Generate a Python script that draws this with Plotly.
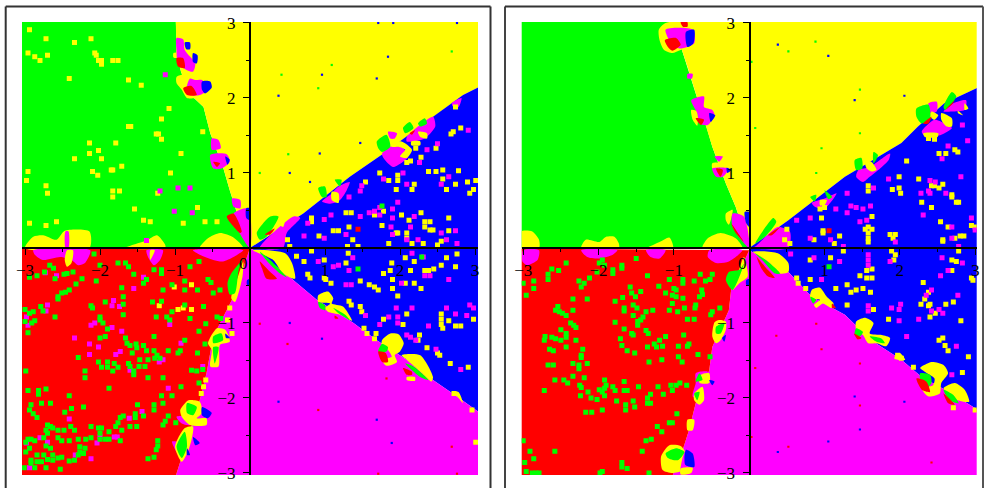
import plotly.graph_objects as go

# ---------- tick labels ----------
X_TICKS = [-3, -2, -1, 1, 2, 3]
X_TICK_LABELS = ["\u22123", "\u22122", "\u22121", "1", "2", "3"]
Y_TICKS = [-3, -2, -1, 1, 2, 3]
Y_TICK_LABELS = ["\u22123", "\u22122", "\u22121", "1", "2", "3"]
MINOR_TICKS = [-2.5, -1.5, -0.5, 0.5, 1.5, 2.5]

# ---------- left panel: basin boundaries ----------
A_GY = [(-.99,3.04),(-.98,2.8),(-.98,2.6),(-.92,2.35),(-.8,2.05),(-.62,1.88),(-.53,1.53),(-.36,1.08),(-.27,.77),(-.13,.33),(0,0)]
A_YB = [(0,0),(.71,.46),(1.33,.95),(1.78,1.26),(2.44,1.75),(2.84,2.04),(3.04,2.14)]
A_BM = [(0,0),(.13,-.07),(.58,-.43),(.89,-.69),(1.38,-1.0),(1.69,-1.23),(2.09,-1.49),(2.44,-1.76),(2.76,-1.98),(3.04,-2.18)]
A_MR = [(0,0),(-.22,-.65),(-.49,-1.18),(-.58,-1.67),(-.67,-2.03),(-.84,-2.56),(-.99,-3.04)]

A_YELLOW_BASE = [
 [(-1.02,2.6),(-.93,2.6),(-.93,2.54),(-1.02,2.54)],
 [(-.98,2.28),(-.87,2.32),(-.67,2.31),(-.56,2.24),(-.51,2.15),(-.62,2.04),(-.73,2.0),(-.84,2.0),(-.91,2.11),(-.98,2.2)],
 [(-3.0,0),(-2.89,.15),(-2.76,.17),(-2.58,.11),(-2.47,.23),(-2.14,.22),(-2.14,0)],
 [(-1.67,0),(-1.38,.1),(-1.24,.17),(-1.13,.04),(-1.13,0)],
 [(-.67,0),(-.56,.13),(-.4,.2),(-.22,.14),(-.09,0)],
]
A_MAGENTA = [
 [(-.98,2.8),(-.89,2.78),(-.87,2.64),(-.73,2.46),(-.76,2.35),(-.84,2.37),(-.96,2.46),(-.98,2.64)],
 [(-.8,2.26),(-.73,2.24),(-.64,2.24),(-.56,2.11),(-.67,2.04),(-.78,2.04),(-.84,2.15)],
 [(-.51,1.46),(-.42,1.44),(-.39,1.33),(-.51,1.31)],
 [(-.53,1.24),(-.31,1.25),(-.27,1.15),(-.38,1.06),(-.49,1.06)],
 [(-.24,.66),(-.13,.64),(-.13,.53),(-.22,.55)],
 [(-.22,.46),(-.02,.53),(0,0),(-.16,.24)],
 [(-2.46,.22),(-2.42,.22),(-2.42,0),(-2.46,0)],
 [(.13,0),(.58,.42),(.67,.4),(.49,.2),(.44,0)],
 [(.96,.62),(1.07,.71),(1.18,.82),(1.33,.88),(1.29,.77),(1.2,.64),(1.07,.59)],
 [(1.76,1.26),(1.87,1.35),(2.02,1.35),(2.11,1.22),(1.91,1.08),(1.78,1.2)],
 [(1.84,1.55),(1.96,1.53),(1.93,1.46),(1.87,1.46)],
 [(2.09,1.48),(2.44,1.75),(2.47,1.62),(2.33,1.46),(2.18,1.42),(2.09,1.42)],
 [(2.69,1.93),(2.82,2.0),(2.78,1.88),(2.71,1.88)],
 [(-2.89,-.03),(-2.13,-.03),(-2.2,-.2),(-2.29,-.23),(-2.38,-.16),(-2.53,-.12),(-2.76,-.16),(-2.87,-.09)],
 [(-1.38,-.03),(-1.16,-.03),(-1.2,-.16),(-1.28,-.23),(-1.36,-.12)],
 [(-.76,-.03),(-.09,-.03),(-.22,-.12),(-.36,-.18),(-.49,-.16),(-.67,-.09)],
 [(-.98,-2.25),(-.78,-2.25),(-.8,-2.36),(-.91,-2.34)],
 [(-1.04,-2.58),(-.91,-2.6),(-.96,-2.74)],
]
A_YELLOW_TOP = [
 [(.36,.35),(.47,.42),(.44,.28)],
 [(1.09,.75),(1.18,.73),(1.18,.6),(1.09,.64)],
 [(1.89,1.4),(2.02,1.42),(2.16,1.31),(2.09,1.2),(2.0,1.22),(2.07,1.31),(1.98,1.35),(1.89,1.35)],
 [(2.24,1.55),(2.36,1.53),(2.36,1.46),(2.27,1.48)],
 [(2.15,1.42),(2.27,1.42),(2.27,1.37),(2.15,1.37)],
 [(-2.44,-.03),(-2.36,-.03),(-2.38,-.2),(-2.44,-.25),(-2.47,-.16)],
 [(-1.33,-.03),(-1.27,-.03),(-1.33,-.16)],
 [(-.09,-.18),(-.1,-.38),(-.2,-.72),(-.25,-.67),(-.16,-.38)],
 [(.04,-.03),(.47,-.07),(.56,-.2),(.6,-.41),(.44,-.34),(.31,-.16)],
 [(.91,-.63),(1.04,-.58),(1.11,-.67),(1.09,-.74),(1.24,-.78),(1.36,-.97),(1.2,-.89),(1.04,-.85),(1.0,-.8),(1.07,-.74),(.91,-.72)],
 [(1.76,-1.23),(1.87,-1.14),(1.98,-1.15),(2.05,-1.27),(2.0,-1.38),(1.93,-1.43),(1.96,-1.52),(1.82,-1.57),(1.76,-1.49),(1.89,-1.45),(1.82,-1.34),(1.76,-1.32)],
 [(2.02,-1.43),(2.27,-1.43),(2.44,-1.72),(2.42,-1.78),(2.27,-1.65),(2.09,-1.49)],
 [(2.09,-1.72),(2.2,-1.72),(2.2,-1.77),(2.09,-1.76)],
 [(2.69,-1.92),(2.78,-1.92),(2.84,-2.07),(2.78,-2.0)],
 [(-.56,-1.27),(-.44,-1.07),(-.33,-1.09),(-.27,-1.25),(-.4,-1.29),(-.42,-1.58),(-.53,-1.58),(-.51,-1.36)],
 [(-.93,-2.16),(-.82,-2.03),(-.67,-2.05),(-.64,-2.2),(-.71,-2.27),(-.58,-2.27),(-.58,-2.36),(-.8,-2.36),(-.91,-2.25)],
 [(-.87,-2.4),(-.76,-2.38),(-.78,-2.56),(-.84,-2.74),(-.91,-2.85),(-1.0,-2.65)],
]
A_GREEN = [
 [(.09,.2),(.27,.42),(.38,.42),(.22,.15),(.13,.11)],
 [(.91,.8),(1.0,.82),(1.02,.68),(.96,.68)],
 [(1.13,.91),(1.22,.91),(1.2,.82)],
 [(1.69,1.42),(1.82,1.51),(1.87,1.35),(1.76,1.28),(1.71,1.33)],
 [(2.04,1.6),(2.13,1.68),(2.18,1.6),(2.07,1.53)],
 [(2.24,1.66),(2.33,1.73),(2.36,1.66),(2.27,1.62)],
 [(-.1,-.16),(-.15,-.29),(-.2,-.6),(-.27,-.62),(-.3,-.47),(-.25,-.34)],
 [(.13,-.05),(.27,-.16),(.49,-.39),(.4,-.34),(.25,-.2)],
 [(.91,-.72),(1.0,-.76),(1.0,-.83),(.93,-.8)],
 [(1.11,-.8),(1.27,-.89),(1.33,-.96),(1.18,-.87)],
 [(1.76,-1.28),(1.84,-1.32),(1.82,-1.38),(1.71,-1.38)],
 [(2.07,-1.54),(2.18,-1.58),(2.38,-1.76),(2.27,-1.72)],
 [(-.49,-1.18),(-.38,-1.14),(-.36,-1.23),(-.49,-1.27)],
 [(-.49,-1.32),(-.42,-1.32),(-.47,-1.54)],
 [(-.84,-2.07),(-.71,-2.12),(-.76,-2.23),(-.84,-2.2)],
 [(-.98,-2.65),(-.87,-2.45),(-.84,-2.65),(-.91,-2.8)],
]
A_RED = [
 [(-.98,2.53),(-.89,2.53),(-.87,2.4),(-.96,2.42)],
 [(-.89,2.13),(-.78,2.16),(-.71,2.04),(-.84,2.04)],
 [(-.49,1.15),(-.4,1.13),(-.44,1.08)],
 [(-.31,.42),(-.22,.46),(-.11,.22),(-.13,.2)],
 [(.2,.18),(.33,.26),(.27,.18)],
 [(2.13,1.53),(2.2,1.57),(2.16,1.51)],
 [(.13,-.18),(.27,-.32),(.36,-.41),(.22,-.41),(.16,-.27)],
 [(1.71,-1.38),(1.81,-1.4),(1.84,-1.52),(1.76,-1.52)],
 [(2.04,-1.6),(2.16,-1.65),(2.16,-1.69),(2.09,-1.69)],
 [(1.13,-.9),(1.18,-.94),(1.13,-.94)],
]
A_BLUE = [
 [(-.87,2.74),(-.8,2.74),(-.8,2.65),(-.85,2.65)],
 [(-.76,2.6),(-.7,2.57),(-.71,2.46),(-.76,2.48)],
 [(-.64,2.22),(-.53,2.22),(-.51,2.14),(-.6,2.06),(-.64,2.11)],
 [(-.33,1.22),(-.27,1.18),(-.3,1.11)],
 [(-.05,.53),(0,.53),(0,.37),(-.05,.4)],
 [(-.33,-1.14),(-.27,-1.2),(-.32,-1.2)],
 [(-.64,-2.12),(-.51,-2.2),(-.56,-2.27),(-.64,-2.23)],
 [(-.76,-2.52),(-.67,-2.6),(-.73,-2.63)],
 [(-.84,-2.67),(-.8,-2.76),(-.84,-2.76)],
 [(-.04,-.43),(0,-.41),(0,-.49),(-.04,-.49)],
]

# ---------- left panel: isolated points ----------
A_DOTS_YELLOW = [
 (-2.94,2.91),(-2.72,2.79),(-2.34,2.74),(-2.12,2.79),(-2.96,2.6),(-2.87,2.55),(-2.8,2.5),(-2.7,2.57),(-2.07,2.6),(-2.05,2.57),(-2.02,2.5),(-1.98,2.5),(-1.98,2.45),(-1.83,2.5),(-1.76,2.5),(-2.41,2.26),(-1.62,2.24),(-1.45,2.17),(-1.08,1.86),(-1.18,1.72),(-1.62,1.62),(-1.59,1.62),(-1.25,1.52),(-1.22,1.52),(-1.18,1.45),(-.63,1.55),(-2.14,1.4),(-1.79,1.4),(-2.02,1.3),(-2.14,1.26),(-1.98,1.19),(-2.34,1.19),(-.92,1.26),(-1.71,1.09),(-1.85,1.04),(-1.83,1.04),(-2.1,1.02),(-2.03,.97),(-1.06,1.0),(-2.96,1.02),(-2.98,.9),(-2.72,.83),(-2.7,.73),(-1.83,.76),(-1.74,.76),(-1.83,.68),(-1.23,.73),(-1.54,.52),(-.7,.54),(-2.94,.33),(-2.72,.3),(-2.58,.35),(-1.42,.37),(-1.33,.35),(-.89,.33),(-.6,.35),(-.44,.35),
 (2.74,1.88),(2.81,1.6),(2.71,1.55),(2.68,1.52),(2.21,1.33),(2.48,1.33),(2.28,1.21),(2.14,1.16),(2.09,1.14),(2.38,1.02),(2.48,1.02),(2.57,1.04),(2.78,1.03),(1.73,1.0),(1.97,.97),(1.97,.9),(1.85,.9),(2.57,.92),(2.19,.85),(2.74,.85),(2.9,.88),(3.01,.9),(1.54,.88),(1.95,.78),(2.16,.78),(2.62,.78),(2.98,.78),(2.93,.73),(1.28,.47),(1.35,.47),(1.66,.44),(1.78,.49),(2.02,.44),(2.28,.47),(2.65,.4),(2.12,.37),(.82,.4),(.82,.35),(2.33,.35),(2.4,.35),(1.76,.3),(1.32,.28),(2.33,.28),(2.4,.24),(2.44,.24),(1.11,.23),(1.18,.23),(2.65,.23),(1.95,.2),(1.97,.2),(2.09,.2),(2.09,.13),(.92,.16),(.5,.11),(1.37,.11),(2.5,.04),(2.55,.09),(2.31,.06),(1.3,.02),(1.44,.02),(1.85,.06),(2.16,.06),(.53,.02),
 (.62,-.11),(.72,-.18),(1.28,-.2),(1.31,-.07),(.99,-.16),(.82,-.04),(1.89,-.2),(1.87,-.3),(1.78,-.34),(2.07,-.13),(2.19,-.18),(2.33,-.3),(2.38,-.3),(2.14,-.3),(2.45,-.28),(2.55,-.23),(2.74,-.25),(2.76,-.08),(2.62,-.13),(.77,-.35),(.8,-.4),(.99,-.4),(1.01,-.42),(1.08,-.47),(1.47,-.44),(1.59,-.49),(1.66,-.52),(1.71,-.56),(1.9,-.42),(1.9,-.54),(1.97,-.64),(2.07,-.47),(2.19,-.47),(2.28,-.54),(1.32,-.71),(1.35,-.76),(1.47,-.78),(1.49,-.85),(2.09,-.88),(1.78,-.95),(2.04,-1.02),(2.55,-.88),(2.55,-.95),(2.55,-1.02),(2.57,-1.07),(2.65,-.97),(2.74,-1.04),(2.81,-1.04),(2.98,-.95),(1.52,-1.07),(1.56,-1.14),(1.66,-1.21),(1.68,-1.14),(2.26,-1.16),(2.24,-1.23),(2.36,-1.33),(2.5,-1.4),(2.53,-1.43),(2.67,-1.54),(2.91,-1.59),(2.72,-1.94),(2.96,-2.16),(3.01,-2.59),
 (-1.01,-.52),(-.78,-.49),(-1.21,-.77),(-.96,-.82),(-.89,-.8),(-.78,-.82),(-.27,-.8),(-.3,-.96),(-.24,-1.14),(-.59,-1.76),(-.62,-1.85),(-.65,-1.94),
]
A_DOTS_MAGENTA = [
 (-1.13,2.31),(-1.2,.76),(-.96,.8),(-.8,.8),(-1.01,.49),(-.77,.47),(-1.38,.1),
 (2.91,1.57),(2.36,1.31),(2.5,1.39),(2.26,1.14),(2.04,1.0),(2.65,.95),(2.55,.85),(2.09,.85),(1.78,.92),(1.49,.83),(1.47,.76),(1.32,.68),(1.97,.61),(1.9,.52),(1.59,.47),(1.66,.49),(1.73,.54),(1.47,.42),(2.19,.42),(1.9,.4),(.99,.38),(1.08,.44),(.77,.33),(1.88,.28),(2.14,.28),(.72,.16),(.99,.13),(1.28,.18),(2.55,.2),(2.74,.23),(2.62,.11),(2.76,.06),(2.24,.11),(2.09,.11),(1.9,.18),(1.73,.44),
 (.91,-.18),(1.11,-.25),(1.18,-.23),(1.32,-.3),(1.28,-.49),(1.35,-.49),(1.37,-.13),(2.33,-.37),(2.4,-.37),(2.65,-.42),(2.02,-.47),(1.95,-.8),(2.16,-.8),(1.85,-.92),(1.97,-.92),(1.97,-1.0),(1.73,-1.02),(1.54,-.9),(2.38,-1.04),(2.62,-.8),(2.74,-.88),(2.93,-.76),(2.98,-.8),(2.89,-.9),(2.09,-1.16),(2.14,-1.19),(2.21,-1.23),(2.48,-1.35),(2.81,-1.62),(2.16,-.07),(2.31,-.12),
 (-1.82,-.7),(-1.74,-.78),(-1.84,-.77),(-2.7,-.76),(-2.72,-.84),(-2.98,-.92),(-2.96,-1.03),(-2.12,-1.03),(-2.07,-1.0),(-1.84,-1.06),(-1.71,-1.11),(-2.34,-1.2),(-2.14,-1.28),(-2.02,-1.32),(-2.14,-1.42),(-1.79,-1.42),(-1.73,-1.38),(-1.55,-.54),(-1.42,-.39),(-2.73,-.33),(-2.58,-.37),(-1.07,-1.02),(-.92,-1.27),(-1.09,-1.87),(-1.21,-1.52),(-1.16,-1.49),(-1.6,-1.63),(-.63,-1.58),(-2.41,-2.28),(-1.61,-2.27),(-1.44,-2.18),(-2.0,-2.52),(-2.04,-2.6),(-1.81,-2.52),(-1.77,-2.52),(-2.8,-2.53),(-2.7,-2.59),(-2.98,-2.6),(-2.33,-2.76),(-2.12,-2.81),(-2.94,-2.93),
]
A_DOTS_GREEN = [
 (1.76,.56),(1.44,-.28),(2.29,-.12),
 (-2.94,-.39),(-2.84,-.37),(-2.74,-.32),(-2.62,-.27),(-2.67,-.23),(-2.6,-.41),(-2.48,-.35),(-2.44,-.34),(-2.36,-.32),(-2.24,-.41),(-2.32,-.48),(-2.05,-.44),(-2.0,-.23),(-2.08,-.08),(-1.76,-.2),(-1.66,-.2),(-1.62,-.25),(-1.55,-.35),(-1.71,-.53),(-1.69,-.65),(-1.69,-.75),(-1.93,-.72),(-1.69,-.89),(-2.41,-.56),(-2.46,-.59),(-2.51,-.6),(-2.56,-.65),(-2.56,-.68),(-2.79,-.78),(-2.76,-.84),(-2.6,-.92),(-3.0,-.82),(-2.94,-.87),(-2.89,-.85),(-3.0,-.98),(-2.87,-.97),(-2.91,-1.0),(-2.96,-1.13),(-2.12,-.77),(-2.1,-.8),(-2.0,-.92),(-2.0,-.96),(-1.96,-1.0),(-1.9,-1.08),(-2.0,-1.2),(-1.93,-1.18),(-2.29,-1.46),(-2.02,-1.52),(-1.9,-1.52),(-1.81,-1.54),(-1.98,-1.59),(-1.9,-1.59),(-1.83,-1.64),(-1.76,-1.59),(-2.2,-1.64),(-2.2,-1.73),(-2.99,-1.64),(-1.66,-1.2),(-1.64,-1.27),(-1.6,-1.3),(-1.52,-1.28),(-1.51,-1.33),(-1.42,-1.3),(-1.57,-1.4),(-1.38,-1.37),(-1.28,-1.18),(-1.28,-1.37),(-1.09,-1.37),(-.96,-1.4),(-.7,-1.4),(-1.47,-1.49),(-1.4,-1.58),(-1.36,-1.49),(-1.27,-1.47),(-1.24,-1.43),(-1.2,-1.47),(-1.62,-1.54),(-1.6,-1.58),(-1.55,-1.64),(-1.48,-1.58),(-1.55,-1.69),(-1.36,-1.73),(-1.16,-1.73),(-.78,-1.63),(-.71,-1.64),(-.63,-1.62),(-.68,-1.8),(-.92,-1.85),(-2.96,-1.9),(-2.82,-1.9),(-2.82,-1.95),(-2.72,-1.88),(-1.88,-1.87),(-2.41,-1.97),(-2.78,-2.07),(-2.66,-2.07),(-2.92,-2.09),(-2.38,-2.14),(-2.47,-2.19),(-2.22,-2.12),(-2.94,-2.16),(-2.89,-2.21),(-2.84,-2.26),(-1.5,-2.09),(-1.18,-1.97),(-1.04,-1.97),(-1.28,-2.09),(-1.28,-2.16),(-1.16,-2.07),(-1.09,-2.24),(-.99,-2.33),(-1.13,-2.31),(-1.16,-2.36),(-1.69,-2.24),(-1.73,-2.26),(-1.76,-2.33),(-1.79,-2.38),(-1.71,-2.43),(-1.53,-2.21),(-1.53,-2.26),(-1.6,-2.38),(-1.51,-2.38),(-1.42,-2.24),(-2.7,-2.36),(-2.66,-2.38),(-2.72,-2.43),(-2.63,-2.4),(-2.56,-2.43),(-2.48,-2.43),(-2.39,-2.38),(-2.34,-2.43),(-2.12,-2.38),(-2.02,-2.4),(-2.0,-2.47),(-1.98,-2.4),(-1.88,-2.45),(-1.88,-2.55),(-1.73,-2.57),(-2.0,-2.55),(-1.93,-2.55),(-2.12,-2.53),(-2.19,-2.55),(-2.29,-2.55),(-2.41,-2.57),(-2.56,-2.53),(-2.51,-2.57),(-2.75,-2.53),(-2.7,-2.47),(-2.92,-2.55),(-2.87,-2.57),(-2.99,-2.59),(-2.96,-2.55),(-2.72,-2.64),(-2.66,-2.67),(-2.63,-2.76),(-2.75,-2.76),(-2.84,-2.76),(-2.99,-2.72),(-2.94,-2.67),(-2.27,-2.65),(-2.27,-2.72),(-2.2,-2.67),(-2.22,-2.74),(-2.29,-2.76),(-2.34,-2.83),(-2.41,-2.84),(-2.51,-2.79),(-2.56,-2.8),(-2.63,-2.83),(-2.7,-2.82),(-2.78,-2.85),(-2.84,-2.85),(-2.92,-2.83),(-2.92,-2.87),(-3.01,-2.93),(-2.87,-2.93),(-2.72,-2.93),(-2.53,-2.95),(-1.23,-2.57),(-1.23,-2.64),(-1.25,-2.69),(-1.28,-2.79),(-1.36,-2.81),(-1.28,-.29),(-1.18,-.29),(-1.18,-.34),(-1.38,-.42),(-1.42,-.47),(-1.16,-.56),(-1.04,-.49),(-.87,-.44),(-.8,-.25),(-.68,-.18),(-.56,-.42),(-.52,-.46),(-.49,-.6),(-.4,-.56),(-.87,-.56),(-.7,-.56),(-1.04,-.85),(-1.11,-.92),(-1.07,-.96),(-1.3,-.72),(-1.18,-.71),(-1.25,-.92),(-.62,-.78),(-.87,-.76),(-.8,-.94),(-.68,-1.11),(-.59,-1.01),(-.44,-.92),(-.39,-.94),(-.6,-1.28),(-.87,-1.23),(-.93,-1.37),
]
A_DOTS_RED = [(1.44,.25)]
A_SPECKS_GREEN = [(.13,1.0),(.51,1.25),(.91,2.13),(1.09,2.44),(.42,2.31),(2.69,2.62)]
A_SPECKS_BLUE = [(.53,1.0),(.38,2.03),(.96,2.31),(.8,.88),(1.47,1.4),(1.84,2.55),(1.69,2.26),(.93,1.26),(1.71,3.0),(1.91,3.0),(2.76,3.0),(.53,-1.0),(.96,-1.21),(.38,-2.05),(1.69,-2.29),(1.89,-2.6)]
A_SPECKS_RED = [(.13,-1.01),(.5,-1.28),(.91,-2.16),(1.82,-1.74),(2.69,-2.65),(1.71,-3.01),(2.76,-3.01)]

# ---------- right panel: basin boundaries ----------
B_GY = [(-.99,3.04),(-.89,2.63),(-.82,2.42),(-.71,2.06),(-.58,1.66),(-.49,1.35),(-.31,.86),(-.18,.55),(0,0)]
B_YB = [(0,0),(.52,.37),(1.27,.95),(2.02,1.4),(2.24,1.62),(2.59,1.93),(3.04,2.14)]
B_BM = [(0,-.03),(.52,-.32),(.83,-.65),(1.27,-.89),(1.62,-1.23),(2.02,-1.49),(2.29,-1.72),(2.6,-1.89),(3.04,-2.16)]
B_MR = [(0,-.03),(-.24,-.56),(-.27,-.83),(-.49,-1.32),(-.53,-1.63),(-.71,-2.07),(-.8,-2.43),(-.91,-2.78),(-1.02,-3.04)]

B_YELLOW_BASE = [
 [(-1.2,2.91),(-1.11,3.0),(-.71,3.01),(-.71,2.73),(-.91,2.64),(-1.02,2.6),(-1.13,2.64),(-1.19,2.77)],
 [(-3.03,0),(-3.03,.22),(-2.88,.22),(-2.79,.11),(-2.79,0)],
 [(-2.23,0),(-2.17,.11),(-1.99,.08),(-1.9,.15),(-1.79,.15),(-1.73,.06),(-1.73,0)],
 [(-1.35,0),(-1.19,.08),(-1.06,.14),(-1.01,0)],
 [(-.62,0),(-.55,.13),(-.38,.2),(-.18,.13),(-.09,0)],
 [(-.77,1.84),(-.69,1.82),(-.69,1.63),(-.75,1.71)],
 [(-.49,1.13),(-.38,1.13),(-.4,1.06),(-.49,1.06)],
 [(-.31,.46),(-.22,.51),(-.27,.31),(-.31,.37)],
]
B_MAGENTA = [
 [(-1.11,2.91),(-.75,2.91),(-.73,2.73),(-.93,2.66),(-1.06,2.77)],
 [(-.82,2.32),(-.75,2.32),(-.76,2.26),(-.82,2.26)],
 [(-.77,1.97),(-.6,2.02),(-.6,1.88),(-.49,1.84),(-.46,1.77),(-.55,1.64),(-.66,1.66),(-.69,1.8)],
 [(-.46,1.22),(-.35,1.22),(-.4,1.15)],
 [(-.49,1.06),(-.27,1.06),(-.35,.95),(-.44,.95)],
 [(-.22,.46),(-.07,.42),(0,0),(-.22,.28)],
 [(.08,.02),(.38,.28),(.54,.22),(.52,0),(.03,0)],
 [(.83,.6),(1.0,.66),(1.16,.73),(1.03,.55),(.94,.53),(.87,.55)],
 [(1.45,1.04),(1.6,1.08),(1.87,1.26),(1.85,1.17),(1.69,1.02),(1.6,.95),(1.51,.88),(1.42,.95)],
 [(2.29,1.55),(2.46,1.71),(2.6,1.66),(2.69,1.6),(2.55,1.51),(2.35,1.48)],
 [(2.38,1.93),(2.49,1.95),(2.49,1.82),(2.4,1.8)],
 [(2.71,1.93),(2.88,1.97),(2.86,1.84),(2.69,1.82),(2.58,1.82)],
 [(-3.0,-.03),(-2.79,-.03),(-2.81,-.16),(-2.95,-.23),(-3.01,-.18)],
 [(-2.23,-.03),(-1.75,-.03),(-1.81,-.09),(-1.99,-.14),(-2.15,-.12)],
 [(-1.37,-.03),(-1.11,-.03),(-1.19,-.14),(-1.31,-.12)],
 [(-.53,-.03),(-.09,-.03),(-.27,-.18),(-.44,-.2),(-.55,-.12)],
 [(-.71,-1.67),(-.55,-1.65),(-.49,-1.76),(-.49,-1.87),(-.62,-2.03),(-.75,-1.98),(-.71,-1.8)],
]
B_YELLOW_TOP = [
 [(.94,.64),(1.03,.64),(1.0,.57),(.94,.57)],
 [(1.54,1.13),(1.62,1.15),(1.69,1.04),(1.62,1.02),(1.56,1.06)],
 [(2.55,1.8),(2.69,1.73),(2.69,1.62),(2.62,1.62),(2.55,1.71)],
 [(2.42,1.82),(2.51,1.77),(2.46,1.71),(2.4,1.75)],
 [(2.31,1.53),(2.51,1.53),(2.5,1.48),(2.33,1.48)],
 [(2.77,1.83),(2.84,1.77),(2.77,1.8)],
 [(2.86,1.93),(2.91,1.86),(2.86,1.84)],
 [(.05,-.05),(.38,-.07),(.52,-.2),(.52,-.32),(.41,-.34),(.25,-.18)],
 [(.83,-.56),(.94,-.53),(1.03,-.65),(1.12,-.74),(1.09,-.8),(.98,-.74),(.89,-.8),(.86,-.76),(.94,-.69),(.81,-.67)],
 [(1.42,-.98),(1.54,-.93),(1.65,-1.0),(1.6,-1.14),(1.76,-1.16),(1.87,-1.2),(1.82,-1.31),(1.69,-1.27),(1.58,-1.27),(1.51,-1.16),(1.42,-1.09)],
 [(1.93,-1.45),(2.0,-1.4),(2.07,-1.49),(1.93,-1.48)],
 [(2.27,-1.6),(2.42,-1.52),(2.58,-1.56),(2.64,-1.67),(2.55,-1.8),(2.53,-1.94),(2.38,-1.98),(2.29,-1.87),(2.44,-1.83),(2.46,-1.74),(2.33,-1.65)],
 [(2.58,-1.87),(2.73,-1.8),(2.86,-1.89),(2.92,-2.05),(2.77,-2.03),(2.64,-1.94)],
 [(-.07,-.12),(-.02,-.38),(-.13,-.47),(-.22,-.56),(-.15,-.34)],
 [(-.46,-.99),(-.4,-.96),(-.31,-.98),(-.31,-1.09),(-.38,-1.23),(-.44,-1.27),(-.49,-1.18)],
 [(-.64,-1.69),(-.53,-1.67),(-.53,-1.8),(-.66,-1.8)],
 [(-.73,-1.94),(-.62,-1.85),(-.6,-2.03),(-.66,-2.09),(-.73,-2.03)],
 [(-.82,-2.29),(-.73,-2.29),(-.75,-2.43),(-.82,-2.43)],
 [(-1.17,-2.78),(-1.06,-2.63),(-.91,-2.64),(-.84,-2.74),(-.88,-2.96),(-1.02,-3.0),(-1.15,-2.96)],
]
B_MAGENTA_TOP = [
 [(-.84,-2.69),(-.71,-2.74),(-.67,-2.87),(-.84,-3.0),(-.91,-3.0)],
]
B_YELLOW_LAST = [
 [(-.91,-2.94),(-.75,-2.93),(-.77,-3.0),(-.91,-3.02)],
]
B_GREEN = [
 [(.08,.06),(.32,.4),(.36,.35),(.23,.17)],
 [(.81,.68),(.89,.71),(.87,.62)],
 [(1.0,.77),(1.1,.68),(1.05,.65)],
 [(1.4,1.17),(1.49,1.2),(1.5,1.06),(1.42,1.04)],
 [(1.65,1.28),(1.71,1.24),(1.65,1.13)],
 [(2.22,1.86),(2.38,1.91),(2.4,1.73),(2.29,1.66),(2.22,1.75)],
 [(2.58,1.88),(2.69,2.08),(2.75,2.02),(2.6,1.84)],
 [(.08,-.07),(.27,-.2),(.41,-.34),(.34,-.34),(.19,-.18)],
 [(.81,-.65),(.89,-.69),(.85,-.74)],
 [(1.42,-1.07),(1.51,-1.12),(1.47,-1.18),(1.4,-1.16)],
 [(1.6,-1.18),(1.76,-1.21),(1.8,-1.27),(1.69,-1.25)],
 [(2.27,-1.67),(2.4,-1.69),(2.42,-1.8),(2.33,-1.89),(2.27,-1.76)],
 [(2.58,-1.89),(2.71,-1.96),(2.78,-2.07),(2.66,-2.03)],
 [(-.13,-.29),(-.07,-.21),(-.22,-.56),(-.31,-.43),(-.27,-.32)],
 [(-.44,-1.05),(-.33,-1.0),(-.38,-1.14),(-.44,-1.14)],
 [(-.66,-1.67),(-.62,-1.76),(-.71,-1.78)],
 [(-.73,-1.94),(-.66,-1.92),(-.69,-2.03)],
 [(-1.11,-2.74),(-.97,-2.67),(-.86,-2.72),(-.95,-2.83),(-1.08,-2.8)],
]
B_RED = [
 [(-1.12,2.77),(-.97,2.8),(-.91,2.71),(-1.02,2.63),(-1.08,2.68)],
 [(-.91,3.01),(-.82,3.01),(-.82,2.95),(-.88,2.95)],
 [(-.71,1.73),(-.6,1.71),(-.64,1.64)],
 [(-.44,1.06),(-.35,1.04),(-.38,.95)],
 [(-.24,.33),(-.07,.08),(-.18,.2)],
 [(.25,.17),(.41,.28),(.3,.17)],
 [(2.31,1.66),(2.42,1.75),(2.38,1.66)],
 [(2.6,1.84),(2.73,1.97),(2.69,1.91)],
 [(.1,-.12),(.21,-.25),(.34,-.4),(.25,-.38),(.16,-.27)],
 [(1.1,-.74),(1.15,-.8),(1.1,-.8)],
 [(1.39,-1.14),(1.49,-1.2),(1.44,-1.22)],
 [(2.22,-1.74),(2.35,-1.78),(2.4,-1.92),(2.29,-1.89)],
 [(2.58,-1.94),(2.73,-2.09),(2.64,-2.07)],
]
B_BLUE = [
 [(-.84,2.88),(-.73,2.91),(-.74,2.73),(-.82,2.68)],
 [(-.53,1.8),(-.45,1.77),(-.51,1.68)],
 [(-.3,1.07),(-.24,1.04),(-.29,1.0)],
 [(-.06,.48),(0,.48),(0,.28),(-.04,.33)],
 [(-.04,-.43),(0,-.41),(0,-.49),(-.04,-.49)],
 [(-.36,-1.2),(-.31,-1.16),(-.33,-1.25)],
 [(-.53,-1.76),(-.46,-1.78),(-.49,-1.83)],
 [(-.84,-2.69),(-.75,-2.74),(-.73,-2.92),(-.85,-2.89)],
]

# ---------- right panel: isolated points ----------
B_DOTS_YELLOW = [
 (2.09,1.16),(2.52,1.26),(2.61,1.26),(2.73,1.31),(2.77,1.28),(1.99,.95),(2.25,.92),(1.58,.83),(1.58,.76),(1.9,.78),(1.99,.8),(2.01,.73),(2.42,.83),(2.46,.83),(2.52,.8),(2.57,.85),(2.69,.71),(2.69,.68),(2.75,.61),(2.78,.61),(2.29,.61),(2.42,.54),(.94,.52),(1.0,.54),(.96,.4),(1.63,.42),(1.54,.25),(1.58,.28),(1.63,.25),(.98,.23),(.98,.2),(.86,.11),(1.2,.16),(1.13,.06),(1.58,.2),(1.58,.13),(1.58,.08),(1.87,.18),(1.94,.18),(1.91,.13),(2.54,.35),(2.64,.28),(2.95,.3),(3.0,.28),(2.57,.11),(2.73,.13),(2.8,.16),(2.85,.16),(.47,.11),(.54,.06),(.5,.25),
 (2.38,1.46),(2.46,1.45),
 (1.25,-.04),(1.08,-.13),(.81,-.16),(1.89,-.04),(1.94,-.09),(1.92,-.16),(2.57,.09),(2.78,-.04),(2.69,-.16),(2.75,-.18),(2.69,-.3),(1.56,-.3),(1.63,-.28),(1.47,-.37),(1.56,-.4),(1.63,-.4),(.81,-.42),(.63,-.4),(.65,-.47),(.75,-.54),(1.3,-.49),(1.15,-.54),(1.42,-.56),(1.35,-.59),(1.51,-.54),(1.61,-.59),(1.3,-.76),(1.65,-.82),(1.85,-.95),(2.31,-.46),(2.38,-.59),(2.33,-.68),(2.28,-.75),(2.38,-.77),(2.4,-.75),(2.47,-.87),(2.4,-.92),(2.61,-.75),(2.71,-.72),(2.81,-.97),(2.52,-1.23),(2.57,-1.2),(2.6,-1.3),(2.64,-1.37),(2.91,-1.45),(2.95,-.4),(2.97,-.43),(2.83,-1.66),(2.18,-1.59),(1.97,-1.43),(2.02,-1.47),(3.0,-2.16),(2.71,-2.13),
]
B_DOTS_MAGENTA = [
 (2.9,1.43),(2.83,1.64),(2.64,1.36),(2.56,1.19),(2.81,.95),(1.85,.92),(1.65,.8),(1.3,.73),(2.4,.9),(2.47,.88),(2.28,.73),(2.38,.76),(2.4,.73),(2.61,.73),(1.35,.56),(1.42,.54),(1.51,.52),(1.61,.56),(1.15,.52),(1.3,.47),(1.47,.35),(1.56,.37),(2.31,.44),(.81,.4),(.63,.37),(.81,.13),(1.08,.11),(1.25,.02),(1.94,.08),(2.69,.28),(2.69,.13),(2.95,.4),(3.0,.24),(2.78,.02),
 (.55,-.08),(.86,-.13),(1.2,-.18),(1.58,-.09),(1.58,-.16),(1.58,-.23),(1.87,-.18),(2.56,-.13),(2.83,-.2),(2.64,-.3),(2.54,-.37),(.96,-.42),(2.77,-.63),(2.42,-.56),(2.35,-.63),(1.58,-.77),(1.58,-.84),(1.89,-.8),(2.01,-.75),(1.99,-.82),(2.25,-.95),(1.99,-.97),(2.42,-.84),(2.52,-.82),(2.57,-.87),(2.09,-1.18),(2.75,-1.31),(2.69,-1.69),
]
B_DOTS_GREEN = [
 (1.06,-.25),
 (-2.43,-.2),(-2.53,-.3),(-2.62,-.28),(-2.67,-.35),(-2.67,-.42),(-3.0,-.47),(-2.86,-.44),(-2.86,-.54),(-2.96,-.63),(-1.99,-.2),(-1.95,-.16),(-2.02,-.32),(-1.92,-.23),(-1.81,-.29),(-1.81,-.34),(-1.69,-.23),(-1.69,-.27),(-1.5,-.14),(-1.35,-.37),(-2.26,-.44),(-2.23,-.52),(-2.19,-.47),(-2.12,-.4),(-1.06,-.42),(-.88,-.42),(-.88,-.47),(-.73,-.44),(-.65,-.35),(-.49,-.35),(-.58,-.44),(-.52,-.42),(-1.2,-.51),(-1.11,-.6),(-1.0,-.54),(-.97,-.56),(-1.02,-.63),(-.97,-.65),(-1.58,-.52),(-1.56,-.6),(-1.51,-.65),(-1.44,-.58),(-1.68,-.66),(-1.78,-.71),(-2.34,-.68),(-2.15,-.68),(-1.54,-.76),(-1.49,-.8),(-1.66,-.8),(-1.66,-.84),(-2.54,-.78),(-2.57,-.83),(-2.52,-.85),(-2.48,-.87),(-2.43,-.9),(-2.34,-.83),(-1.37,-.85),(-1.28,-.83),(-1.54,-.9),(-1.02,-.74),(-1.06,-.83),(-.95,-.85),(-.86,-.8),(-.72,-.8),(-.71,-.76),(-.88,-.67),(-.66,-.65),(-.63,-.56),(-.62,-.62),(-.49,-.85),(-.51,-.89),(-.39,-.8),(-.82,-.95),(-.73,-.95),(-1.41,-.92),(-1.44,-.96),(-1.48,-.98),(-1.48,-1.03),(-1.78,-.99),(-2.37,-1.0),(-2.33,-1.03),(-2.3,-1.06),(-2.5,-1.09),(-2.43,-1.14),(-2.43,-1.19),(-2.3,-1.23),(-2.71,-1.18),(-2.72,-1.23),(-2.62,-1.19),(-2.57,-1.21),(-2.5,-1.23),(-1.66,-1.08),(-1.56,-1.14),(-1.54,-1.16),(-1.37,-1.1),(-1.34,-1.14),(-1.71,-1.21),(-1.69,-1.3),(-1.62,-1.37),(-1.52,-1.4),(-1.35,-1.32),(-1.26,-1.28),(-1.23,-1.32),(-1.15,-1.31),(-1.19,-1.23),(-1.11,-1.18),(-.94,-1.31),(-.82,-1.31),(-.8,-1.28),(-.87,-1.16),(-2.65,-1.35),(-2.6,-1.37),(-2.43,-1.32),(-2.21,-1.35),(-2.23,-1.43),(-2.23,-1.46),(-.68,-1.42),(-.52,-1.45),(-.94,-1.45),(-.89,-1.52),(-1.33,-1.52),(-1.16,-1.49),(-2.67,-1.56),(-2.6,-1.56),(-2.34,-1.54),(-2.26,-1.56),(-2.26,-1.61),(-2.15,-1.54),(-2.34,-1.71),(-2.19,-1.73),(-2.46,-1.76),(-2.58,-1.76),(-2.41,-1.8),(-1.92,-1.76),(-1.66,-1.78),(-1.9,-1.83),(-1.99,-1.89),(-1.92,-1.87),(-2.25,-1.83),(-2.23,-1.86),(-2.72,-1.9),(-2.24,-1.97),(-2.14,-1.92),(-2.1,-2.0),(-2.02,-2.02),(-1.95,-1.92),(-1.92,-1.97),(-1.81,-1.85),(-1.78,-1.9),(-1.66,-1.9),(-1.62,-1.9),(-1.47,-1.85),(-1.21,-1.85),(-1.04,-1.83),(-.97,-1.83),(-.92,-1.8),(-.83,-1.83),(-1.02,-1.9),(-1.14,-1.95),(-1.35,-2.0),(-1.31,-1.95),(-1.35,-2.07),(-1.31,-2.07),(-1.76,-2.04),(-1.64,-2.09),(-1.54,-2.04),(-1.52,-2.12),(-1.64,-2.16),(-2.17,-2.19),(-2.09,-2.19),(-1.95,-2.16),(-.96,-2.21),(-1.06,-2.33),(-1.02,-2.33),(-1.22,-2.38),(-1.16,-2.45),(-1.37,-2.57),(-1.3,-2.55),(-3.0,-2.57),(-1.42,-2.71),(-2.91,-2.71),(-2.86,-2.81),(-2.58,-2.71),(-2.98,-2.86),(-2.96,-2.98),(-2.88,-3.0),(-2.83,-3.0),(-2.79,-3.0),(-1.69,-2.86),(-1.69,-2.92),(-1.62,-2.94),(-1.95,-2.98),(-1.98,-3.0),(-1.33,-3.0),
]
B_DOTS_RED = [(1.06,.23)]
B_SPECKS_GREEN = [(.52,2.62),(.03,2.48),(.88,2.75),(1.47,2.11),(.96,1.33),(.89,1.0),(1.47,1.53),(.08,1.6)]
B_SPECKS_BLUE = [(1.05,2.56),(1.4,1.97),(2.06,2.03),(.38,2.71),(2.06,-2.05),(1.05,-2.58),(1.4,-1.98),(.38,-2.72),(1.47,-2.42)]
B_SPECKS_RED = [(.89,-1.01),(.36,-1.17),(.96,-1.35),(1.47,-1.54),(.08,-1.6),(.52,-2.65),(.03,-2.52),(1.47,-2.1),(2.42,-2.86)]

# ---------- colours and layout ----------
GREEN, YELLOW, BLUE, MAGENTA, RED = "#00ff00", "#ffff00", "#0000ff", "#ff00ff", "#ff0000"
W, H = 984, 488
SERIF = "Liberation Serif, Times New Roman, serif"
EDGE = 4.0

fig = go.Figure()


def polys(color, groups, xa, ya, smooth=True):
    xs, ys = [], []
    for poly in groups:
        xs += [p[0] for p in poly] + [poly[0][0], None]
        ys += [p[1] for p in poly] + [poly[0][1], None]
    line = dict(width=0, color=color)
    if smooth:
        line.update(shape="spline", smoothing=0.7)
    fig.add_trace(go.Scatter(x=xs, y=ys, mode="lines", fill="toself", fillcolor=color, line=line,
                             hoverinfo="skip", showlegend=False, xaxis=xa, yaxis=ya))


def dots(color, pts, size, xa, ya):
    fig.add_trace(go.Scatter(x=[p[0] for p in pts], y=[p[1] for p in pts], mode="markers",
                             marker=dict(symbol="square", size=size, color=color, line=dict(width=0)),
                             hoverinfo="skip", showlegend=False, xaxis=xa, yaxis=ya))


def panel(xa, ya, gy, yb, bm, mr, layers, big, small):
    polys(GREEN, [[(-EDGE, EDGE)] + gy + [(-EDGE, 0)]], xa, ya, False)
    polys(YELLOW, [gy + yb[1:] + [(EDGE, yb[-1][1]), (EDGE, EDGE)]], xa, ya, False)
    polys(BLUE, [yb + [(EDGE, yb[-1][1]), (EDGE, bm[-1][1])] + bm[::-1]], xa, ya, False)
    polys(MAGENTA, [bm + [(EDGE, bm[-1][1]), (EDGE, -EDGE)] + mr[::-1]], xa, ya, False)
    polys(RED, [mr + [(mr[-1][0], -EDGE), (-EDGE, -EDGE), (-EDGE, 0)]], xa, ya, False)
    for color, groups in layers:
        polys(color, groups, xa, ya)
    for color, pts in big:
        dots(color, pts, 5, xa, ya)
    for color, pts in small:
        dots(color, pts, 2.2, xa, ya)


panel("x", "y", A_GY, A_YB, A_BM, A_MR,
      [(YELLOW, A_YELLOW_BASE), (MAGENTA, A_MAGENTA), (YELLOW, A_YELLOW_TOP),
       (GREEN, A_GREEN), (RED, A_RED), (BLUE, A_BLUE)],
      [(YELLOW, A_DOTS_YELLOW), (MAGENTA, A_DOTS_MAGENTA), (GREEN, A_DOTS_GREEN), (RED, A_DOTS_RED)],
      [(GREEN, A_SPECKS_GREEN), (BLUE, A_SPECKS_BLUE), (RED, A_SPECKS_RED)])
panel("x2", "y2", B_GY, B_YB, B_BM, B_MR,
      [(YELLOW, B_YELLOW_BASE), (MAGENTA, B_MAGENTA), (YELLOW, B_YELLOW_TOP), (MAGENTA, B_MAGENTA_TOP),
       (GREEN, B_GREEN), (RED, B_RED), (BLUE, B_BLUE), (YELLOW, B_YELLOW_LAST)],
      [(YELLOW, B_DOTS_YELLOW), (MAGENTA, B_DOTS_MAGENTA), (GREEN, B_DOTS_GREEN), (RED, B_DOTS_RED)],
      [(GREEN, B_SPECKS_GREEN), (BLUE, B_SPECKS_BLUE), (RED, B_SPECKS_RED)])


def axis(vals, text, domain, rng, pos, side, standoff):
    return dict(domain=domain, range=rng, anchor="free", position=pos, side=side, automargin=False,
                tickmode="array", tickvals=vals, ticktext=text, ticks="outside", ticklen=6,
                tickwidth=1.3, tickcolor="black", showgrid=False, zeroline=False,
                showline=True, linecolor="black", linewidth=2,
                ticklabelstandoff=standoff,
                tickfont=dict(family=SERIF, size=17, color="black"),
                minor=dict(tickmode="array", tickvals=MINOR_TICKS, ticks="outside", ticklen=3,
                           tickcolor="black", tickwidth=1, showgrid=False))


Y_DOMAIN = [1 - 475 / H, 1 - 22 / H]
Y_RANGE = [-3.027, 3.013]
Y_ZERO = 1 - 248 / H

fig.update_layout(
    template="none",
    width=W, height=H, margin=dict(l=0, r=0, t=0, b=0, pad=0, autoexpand=False), autosize=False,
    paper_bgcolor="white", plot_bgcolor="white", showlegend=False,
    xaxis=axis(X_TICKS, X_TICK_LABELS, [22 / W, 478 / W], [-3.04, 3.04], Y_ZERO, "bottom", 1),
    yaxis=axis(Y_TICKS, Y_TICK_LABELS, Y_DOMAIN, Y_RANGE, 250 / W, "left", 4),
    xaxis2=axis(X_TICKS, X_TICK_LABELS, [521.7 / W, 976.7 / W], [-3.02, 3.02], Y_ZERO, "bottom", 1),
    yaxis2=axis(Y_TICKS, Y_TICK_LABELS, Y_DOMAIN, Y_RANGE, 749.5 / W, "left", 4),
    annotations=[
        dict(text="0", x=-.09, y=-.21, xref=xa, yref=ya, showarrow=False,
             font=dict(family=SERIF, size=17, color="black"))
        for xa, ya in (("x", "y"), ("x2", "y2"))
    ],
    shapes=[
        dict(type="line", xref="paper", yref="paper", x0=x0 / W, x1=x1 / W, y0=1 - y0 / H, y1=1 - y1 / H,
             line=dict(color=c, width=2))
        for x0, y0, x1, y1, c in [
            (5.7, 488, 5.7, 6.5, "#333333"), (5.7, 6.5, 490.5, 6.5, "#333333"), (490.5, 6.5, 490.5, 488, "#333333"),
            (505, 488, 505, 6.5, "#444444"), (505, 6.5, 983, 6.5, "#333333"), (983, 6.5, 983, 488, "#555555"),
        ]
    ],
)

FULL_PAGE = "document.documentElement.style.margin='0';document.body.style.margin='0';document.body.style.overflow='hidden';"
fig.write_html("out.html", post_script=FULL_PAGE, config={"displayModeBar": False})
